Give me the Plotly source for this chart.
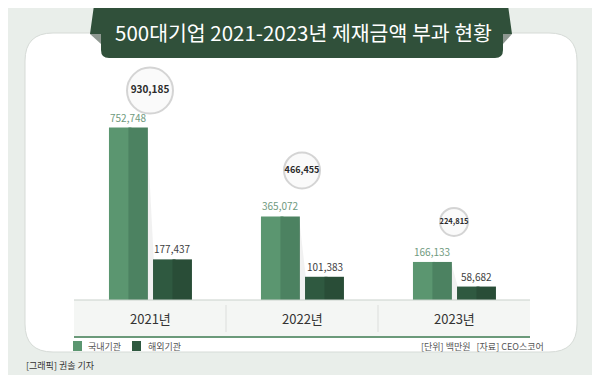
import plotly.graph_objects as go

# ---- data ----
years = ["2021년", "2022년", "2023년"]
domestic = [752748, 365072, 166133]   # 국내기관
overseas = [177437, 101383, 58682]    # 해외기관
totals = [930185, 466455, 224815]
series_names = ["국내기관", "해외기관"]

# ---- layout helpers (page pixel -> paper); page body has an 8px margin ----
W, H = 600, 375
OFF = 8
FONT = "Noto Sans CJK KR"
def X(p): return (p - OFF) / W
def Y(p): return 1 - (p - OFF) / H
def path(points, close=True):
    s = "M " + " L ".join(f"{X(x):.5f},{Y(y):.5f}" for x, y in points)
    return s + (" Z" if close else "")

BASE = 300                          # page px of bar baseline
PLOT_H = BASE - OFF                 # plot area height in figure px
PX_PER_UNIT = 300 / 1310000
Y_MAX = PLOT_H / PX_PER_UNIT

xs = list(range(len(years)))
dom_off, ovs_off = -0.27, 0.02
half = 0.128

fig = go.Figure()

# shadows between bars
for i in xs:
    fig.add_trace(go.Scatter(
        x=[i - 0.02, i + 0.025, i + 0.025, i - 0.02],
        y=[domestic[i], overseas[i], 0, 0],
        fill="toself", mode="none", fillcolor="rgba(0,0,0,0.055)",
        hoverinfo="skip", showlegend=False))

# two-tone bars (left half slightly wider so no seam shows under the right half)
bar_specs = [
    (domestic, dom_off, half + 0.02, "#5b9670"),
    (domestic, dom_off + half, half, "#4c8261"),
    (overseas, ovs_off, half + 0.02, "#2f5940"),
    (overseas, ovs_off + half, half, "#294d37"),
]
for vals, off, wd, col in bar_specs:
    fig.add_trace(go.Bar(x=xs, y=vals, width=wd, offset=off,
                         marker=dict(color=col, line=dict(width=0)),
                         showlegend=False, hoverinfo="skip"))

# total circles
circle_gap_px = [37, 46, 40]
circle_sizes = [46, 36, 28]
circle_font = [10, 9, 7.5]
cy = [domestic[i] + circle_gap_px[i] / PX_PER_UNIT for i in xs]
fig.add_trace(go.Scatter(
    x=xs, y=cy, mode="markers+text",
    marker=dict(size=circle_sizes, color="#f8f8f8",
                line=dict(color="#c3c3c3", width=2)),
    text=[f"{v:,}" for v in totals], textposition="middle center",
    textfont=dict(family=FONT, size=circle_font, color="#2b2b2b", weight="bold"),
    showlegend=False, hoverinfo="skip"))

annotations = []
# value labels
for i in xs:
    annotations.append(dict(x=i + dom_off + half, y=domestic[i], xref="x", yref="y",
                            text=f"{domestic[i]:,}", showarrow=False, yanchor="bottom",
                            xanchor="center", yshift=1,
                            font=dict(family=FONT, size=10, color="#6f9a7e")))
    annotations.append(dict(x=i + ovs_off + half, y=overseas[i], xref="x", yref="y",
                            text=f"{overseas[i]:,}", showarrow=False, yanchor="bottom",
                            xanchor="center", yshift=1,
                            font=dict(family=FONT, size=10, color="#3e3e3e")))
    annotations.append(dict(x=i, y=Y(318), xref="x", yref="paper", text=years[i],
                            showarrow=False, xanchor="center", yanchor="middle",
                            font=dict(family=FONT, size=13, color="#333333")))

def note(px, py, text, anchor, size, color):
    annotations.append(dict(x=X(px), y=Y(py), xref="paper", yref="paper", text=text,
                            showarrow=False, xanchor=anchor, yanchor="middle",
                            font=dict(family=FONT, size=size, color=color)))

# title
note(303, 32, "500대기업 2021-2023년 제재금액 부과 현황", "center", 20.5, "#ffffff")
# legend texts & notes
note(86, 346, series_names[0], "left", 9, "#555555")
note(146, 346, series_names[1], "left", 9, "#555555")
note(546, 346, "[단위] 백만원   [자료] CEO스코어", "right", 9, "#555555")
note(24, 365, "[그래픽] 권솔 기자", "left", 9, "#333333")

shapes = []
# white panel
r = 28
L, T, R_, B = 25, 33, 577, 352
panel = (f"M {X(L+r)},{Y(T)} L {X(R_-r)},{Y(T)} Q {X(R_)},{Y(T)} {X(R_)},{Y(T+r)} "
         f"L {X(R_)},{Y(B-r)} Q {X(R_)},{Y(B)} {X(R_-r)},{Y(B)} L {X(L+r)},{Y(B)} "
         f"Q {X(L)},{Y(B)} {X(L)},{Y(B-r)} L {X(L)},{Y(T+r)} Q {X(L)},{Y(T)} {X(L+r)},{Y(T)} Z")
shapes.append(dict(type="path", path=panel, xref="paper", yref="paper",
                   fillcolor="#ffffff", line=dict(color="#d6dbd7", width=1), layer="below"))
# category band
shapes.append(dict(type="rect", xref="x", yref="paper", x0=-0.5, x1=2.5, y0=Y(337), y1=Y(300),
                   fillcolor="#f4f6f4", line=dict(width=0), layer="below"))
for sx in [0.5, 1.5]:
    shapes.append(dict(type="line", xref="x", yref="paper", x0=sx, x1=sx, y0=Y(305), y1=Y(332),
                       line=dict(color="#dcdedc", width=1), layer="below"))
shapes.append(dict(type="line", xref="x", yref="paper", x0=-0.5, x1=2.5, y0=Y(300), y1=Y(300),
                   line=dict(color="#c9d1cb", width=1)))
shapes.append(dict(type="line", xref="x", yref="paper", x0=-0.5, x1=2.5, y0=Y(337), y1=Y(337),
                   line=dict(color="#6b9a7a", width=2)))
# legend squares
shapes.append(dict(type="rect", xref="paper", yref="paper", x0=X(73), x1=X(82), y0=Y(351), y1=Y(341),
                   fillcolor="#5b9670", line=dict(width=0)))
shapes.append(dict(type="rect", xref="paper", yref="paper", x0=X(132), x1=X(141), y0=Y(351), y1=Y(341),
                   fillcolor="#2f5940", line=dict(width=0)))
# title banner folds
shapes.append(dict(type="path", path=path([(90, 34), (101, 34), (101, 44)]), xref="paper",
                   yref="paper", fillcolor="#8e9891", line=dict(width=0)))
shapes.append(dict(type="path", path=path([(512, 34), (503, 34), (503, 44)]), xref="paper",
                   yref="paper", fillcolor="#8e9891", line=dict(width=0)))
banner = (f"M {X(95)},{Y(-2)} L {X(507)},{Y(-2)} L {X(512)},{Y(34)} L {X(503)},{Y(34)} "
          f"L {X(503)},{Y(50)} Q {X(503)},{Y(58)} {X(495)},{Y(58)} L {X(109)},{Y(58)} "
          f"Q {X(101)},{Y(58)} {X(101)},{Y(50)} L {X(101)},{Y(34)} L {X(90)},{Y(34)} Z")
shapes.append(dict(type="path", path=banner, xref="paper", yref="paper",
                   fillcolor="#30503a", line=dict(width=0)))

# x axis: category 0 centred at page px 150, category 2 at 454
PX_PER_CAT = (454 - 150) / 2
a = -(150 - OFF) / PX_PER_CAT
fig.update_layout(
    width=W, height=H, margin=dict(l=0, r=0, t=0, b=0),
    paper_bgcolor="#e9eeea", plot_bgcolor="rgba(0,0,0,0)",
    barmode="overlay", showlegend=False,
    xaxis=dict(range=[a, a + W / PX_PER_CAT], domain=[0, 1], visible=False, fixedrange=True),
    yaxis=dict(range=[0, Y_MAX], domain=[1 - PLOT_H / H, 1], visible=False, fixedrange=True),
    shapes=shapes, annotations=annotations,
    font=dict(family=FONT),
)
fig.write_html("out.html")
